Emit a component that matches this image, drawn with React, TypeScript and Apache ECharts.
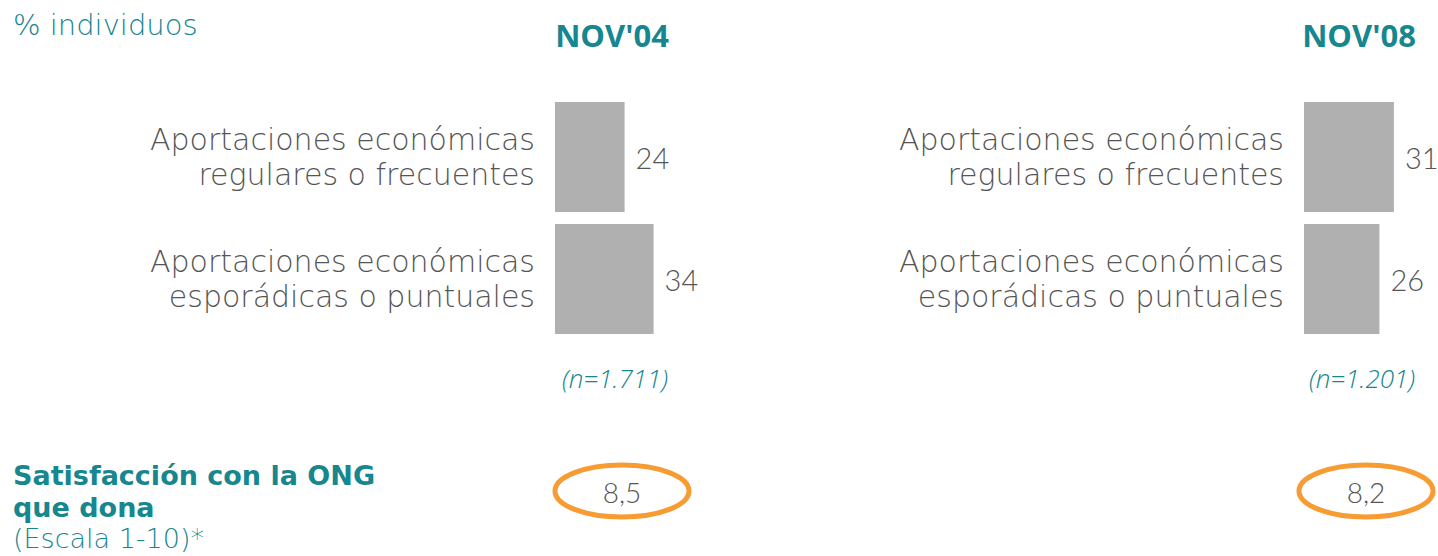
import React, { useEffect, useRef } from "react";
import * as echarts from "echarts";

const categories = [
  "Aportaciones económicas\nregulares o frecuentes",
  "Aportaciones económicas\nesporádicas o puntuales",
];
const periods = ["NOV'04", "NOV'08"];
const values2004 = [24, 34];
const values2008 = [31, 26];
const sampleSizes = ["(n=1.711)", "(n=1.201)"];
const satisfaction = [8.5, 8.2];

const TEAL = "#16868F";
const GRAY = "#555555";
const BAR = "#B0B0B0";
const ORANGE = "#F79B33";
const LIGHT_FONT = "Lato, 'Open Sans', sans-serif";
const OPEN = "'Open Sans', sans-serif";
const WIDE = "'DejaVu Sans', sans-serif";

export default function App() {
  const ref = useRef<HTMLDivElement>(null);
  useEffect(() => {
    if (!ref.current) return;
    const chart = echarts.init(ref.current, null, { renderer: "svg" });
    const gridLefts = [555, 1304];
    const panelCenters = [612, 1359];
    const ellipseCenters = [622, 1366];
    const labelStyle = {
      fontSize: 30,
      lineHeight: 35,
      color: GRAY,
      fontFamily: WIDE,
      fontWeight: 200 as any,
      margin: 20,
      padding: [6, 0, 0, 0],
    };
    const valueLabel = {
      show: true,
      position: "right" as const,
      distance: 11,
      fontSize: 29,
      color: GRAY,
      fontFamily: LIGHT_FONT,
      fontWeight: 300 as any,
    };
    const graphic: any[] = [
      {
        type: "text",
        left: 13,
        top: 10,
        style: {
          text: "% individuos",
          fontSize: 29,
          fontFamily: WIDE,
          fontWeight: 200,
          fill: TEAL,
        },
      },
      {
        type: "text",
        x: 13,
        y: 475,
        style: {
          text: "Satisfacción con la ONG",
          fontSize: 27,
          fontFamily: WIDE,
          fontWeight: "bold",
          fill: TEAL,
          verticalAlign: "middle",
        },
      },
      {
        type: "text",
        x: 13,
        y: 507,
        style: {
          text: "que dona",
          fontSize: 27,
          fontFamily: WIDE,
          fontWeight: "bold",
          fill: TEAL,
          verticalAlign: "middle",
        },
      },
      {
        type: "text",
        x: 13,
        y: 538,
        style: {
          text: "(Escala 1-10)*",
          fontSize: 27,
          fontFamily: WIDE,
          fontWeight: 200,
          fill: TEAL,
          verticalAlign: "middle",
        },
      },
    ];
    periods.forEach((p, i) => {
      graphic.push({
        type: "text",
        x: panelCenters[i],
        y: 35,
        style: {
          text: p,
          fontSize: 31,
          fontFamily: OPEN,
          fontWeight: "bold",
          fill: TEAL,
          align: "center",
          verticalAlign: "middle",
        },
      });
      graphic.push({
        type: "text",
        x: panelCenters[i] + 3,
        y: 378,
        style: {
          text: sampleSizes[i],
          fontSize: 26,
          fontStyle: "italic",
          fontFamily: OPEN,
          fontWeight: 300,
          fill: TEAL,
          align: "center",
          verticalAlign: "middle",
        },
      });
      graphic.push({
        type: "ellipse",
        shape: { cx: ellipseCenters[i], cy: 491, rx: 67, ry: 26 },
        style: { fill: "none", stroke: ORANGE, lineWidth: 5 },
      });
      graphic.push({
        type: "text",
        x: ellipseCenters[i],
        y: 492,
        style: {
          text: satisfaction[i].toFixed(1).replace(".", ","),
          fontSize: 28,
          fontFamily: LIGHT_FONT,
          fontWeight: 300,
          fill: GRAY,
          align: "center",
          verticalAlign: "middle",
        },
      });
    });

    chart.setOption({
      animation: false,
      grid: gridLefts.map((l) => ({
        left: l,
        top: 96,
        width: 116,
        height: 244,
      })),
      xAxis: [0, 1].map((i) => ({
        type: "value",
        gridIndex: i,
        min: 0,
        max: 40,
        show: false,
      })),
      yAxis: [0, 1].map((i) => ({
        type: "category",
        gridIndex: i,
        data: categories,
        inverse: true,
        axisLine: { show: false },
        axisTick: { show: false },
        axisLabel: labelStyle,
      })),
      series: [values2004, values2008].map((vals, i) => ({
        type: "bar",
        xAxisIndex: i,
        yAxisIndex: i,
        data: vals,
        barWidth: 110,
        itemStyle: { color: BAR },
        label: valueLabel,
      })),
      graphic,
    });
    return () => chart.dispose();
  }, []);
  return (
    <div
      ref={ref}
      style={{ position: "absolute", left: 0, top: 0, width: 1438, height: 556, background: "#fff" }}
    />
  );
}
